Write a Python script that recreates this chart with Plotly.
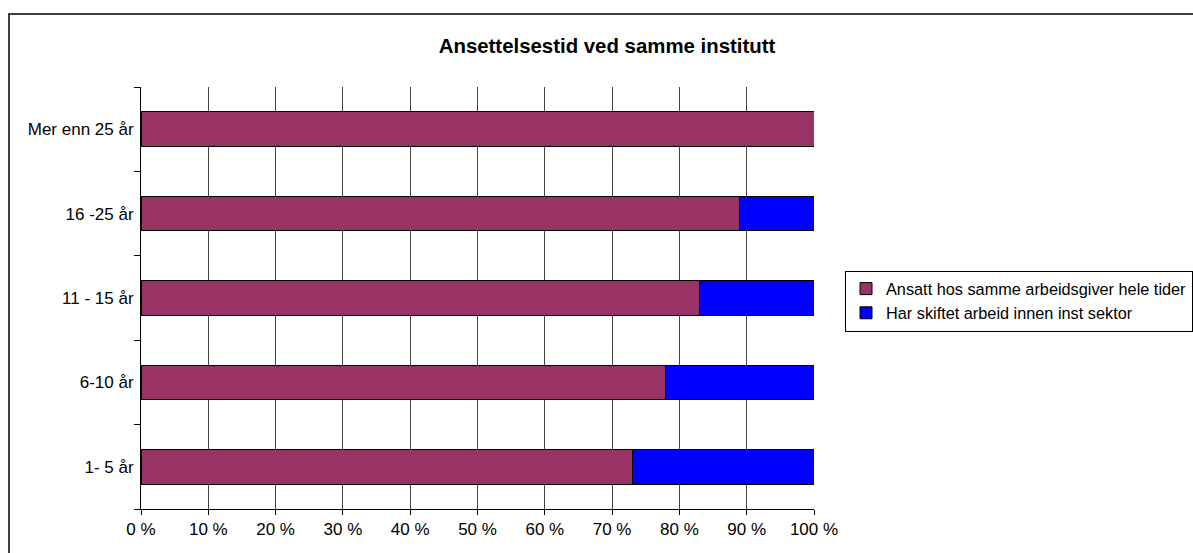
import plotly.graph_objects as go

categories = ["1- 5 år", "6-10 år", "11 - 15 år", "16 -25 år", "Mer enn 25 år"]
same_employer = [73, 78, 83, 89, 100]
changed_job = [27, 22, 17, 11, 0]
series_names = ["Ansatt hos samme arbeidsgiver hele tider", "Har skiftet arbeid innen inst sektor"]
x_ticks = list(range(0, 101, 10))
title_text = "Ansettelsestid ved samme institutt"

W, H = 1193, 553
L, R, T, B = 141, 814, 87, 509

fig = go.Figure()
fig.add_trace(go.Bar(y=categories, x=same_employer, orientation="h", name=series_names[0],
                     marker=dict(color="#993366", line=dict(color="#000000", width=1))))
fig.add_trace(go.Bar(y=categories, x=changed_job, orientation="h", name=series_names[1],
                     marker=dict(color="#0000FF", line=dict(color="#000000", width=1))))

fig.update_layout(
    width=W, height=H,
    barmode="stack", bargap=0.59,
    margin=dict(l=L, r=W - R, t=T, b=H - B, pad=0, autoexpand=False),
    paper_bgcolor="white", plot_bgcolor="white",
    font=dict(family="Liberation Sans, Arial", size=17, color="#000000"),
    title=dict(text="<b>" + title_text + "</b>", x=607 / W, xref="container", xanchor="center",
               y=1 - 46 / H, yref="container", yanchor="middle",
               font=dict(size=20.4, family="Liberation Sans, Arial", color="#000000")),
    legend=dict(x=(845 - L) / (R - L), xanchor="left", y=(B - 301) / (B - T), yanchor="middle",
                bordercolor="#000000", borderwidth=1, bgcolor="white",
                font=dict(size=16.3), traceorder="normal", itemwidth=30,
                tracegroupgap=0),
    showlegend=True,
)
fig.update_xaxes(range=[0, 100], tickvals=x_ticks, ticktext=[f"{v} %" for v in x_ticks],
                 showgrid=True, gridcolor="#444444", gridwidth=1,
                 showline=True, linecolor="#000000", linewidth=1,
                 ticks="outside", ticklen=5, tickcolor="#000000",
                 tickfont=dict(size=17), zeroline=False, fixedrange=True)
fig.update_yaxes(categoryorder="array", categoryarray=categories,
                 showgrid=False, showline=True, linecolor="#000000", linewidth=1,
                 ticks="outside", tickson="boundaries", ticklen=6, tickcolor="#000000",
                 ticklabelstandoff=3,
                 tickfont=dict(size=17), fixedrange=True)

# Outer chart-area border (top and left edges visible; extends past the canvas)
fig.add_shape(type="rect", xref="paper", yref="paper",
              x0=(9 - L) / (R - L), x1=(W + 20 - L) / (R - L),
              y0=(B - 14) / (B - T), y1=(B - (H + 20)) / (B - T),
              line=dict(color="#000000", width=1.5), fillcolor="rgba(0,0,0,0)", layer="below")

fig.write_html("out.html", config={"displayModeBar": False},
               post_script="document.body.style.margin='0';document.body.style.overflow='hidden';")
